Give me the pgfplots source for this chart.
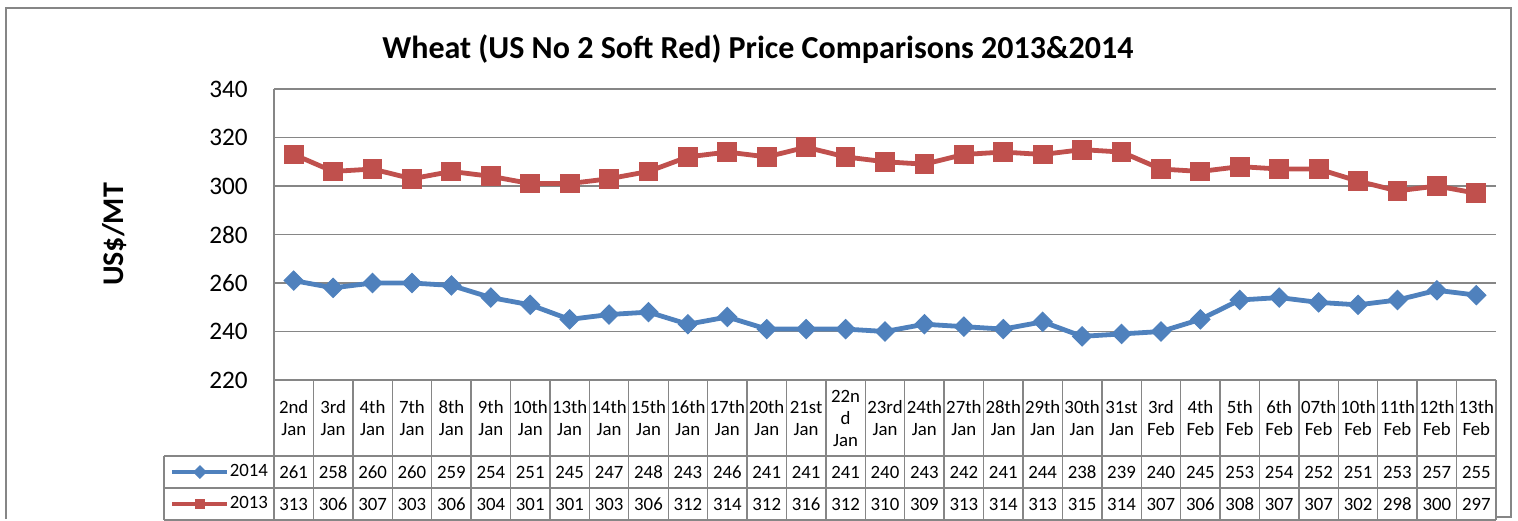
\documentclass[border=0pt]{standalone}
\usepackage{pgfplots}
\pgfplotsset{compat=1.18}
\usepackage{pgfplotstable}
\usepackage{fontspec}
\setmainfont{Carlito}
\definecolor{s14}{HTML}{4F81BD}
\definecolor{s13}{HTML}{C0504D}
\definecolor{gridgray}{HTML}{868686}

% daily prices, US$/MT
\pgfplotstableread{
idx y2014 y2013
0 261 313
1 258 306
2 260 307
3 260 303
4 259 306
5 254 304
6 251 301
7 245 301
8 247 303
9 248 306
10 243 312
11 246 314
12 241 312
13 241 316
14 241 312
15 240 310
16 243 309
17 242 313
18 241 314
19 244 313
20 238 315
21 239 314
22 240 307
23 245 306
24 253 308
25 254 307
26 252 307
27 251 302
28 253 298
29 257 300
30 255 297
}\prices

\newcommand\tabfont{\fontsize{9.4}{11}\selectfont}

\begin{document}
\begin{tikzpicture}
\begin{scope}[x=0.5pt,y=-0.5pt]
\path[use as bounding box] (0,0) rectangle (1518,519);
\end{scope}
\begin{axis}[
  at={(137pt,-190pt)}, anchor=south west,
  scale only axis, width=611pt, height=145.5pt,
  xmin=-0.5, xmax=30.5, ymin=220, ymax=340,
  ytick={220,240,...,340},
  xtick={0,...,30},
  xticklabels={{2nd\\Jan},{3rd\\Jan},{4th\\Jan},{7th\\Jan},{8th\\Jan},{9th\\Jan},{10th\\Jan},{13th\\Jan},{14th\\Jan},{15th\\Jan},{16th\\Jan},{17th\\Jan},{20th\\Jan},{21st\\Jan},{22n\\d\\Jan},{23rd\\Jan},{24th\\Jan},{27th\\Jan},{28th\\Jan},{29th\\Jan},{30th\\Jan},{31st\\Jan},{3rd\\Feb},{4th\\Feb},{5th\\Feb},{6th\\Feb},{07th\\Feb},{10th\\Feb},{11th\\Feb},{12th\\Feb},{13th\\Feb}},
  xticklabel style={font=\tabfont, align=center, anchor=center, yshift=-19pt, inner sep=0pt},
  yticklabel style={font=\fontsize{12.6}{15}\selectfont, inner sep=0pt, xshift=-13pt},
  /pgf/number format/assume math mode=true,
  major tick length=0pt,
  ymajorgrids, grid style={gridgray, line width=0.75pt},
  axis line style={draw=none},
  clip=false,
  title={Wheat (US No 2 Soft Red) Price Comparisons 2013\&2014},
  title style={at={(0.396,1.0962)}, anchor=center, font=\bfseries\fontsize{16}{19}\selectfont},
  ylabel={US\$/MT},
  ylabel style={at={(axis description cs:-0.1301,0.5)}, anchor=center, font=\bfseries\fontsize{15}{18}\selectfont},
  legend style={draw=none, fill=none, at={(-0.0851,-0.2612)}, anchor=north west,
    inner sep=0pt, outer sep=0pt, row sep=0pt, font=\tabfont,
    nodes={inner sep=0pt, minimum height=16pt},
    /tikz/every even column/.append style={column sep=2.5pt}},
  legend cell align=left,
  legend image code/.code={\draw[mark repeat=2,mark phase=2,#1,mark size=2.2pt] plot coordinates {(0pt,0pt) (13.75pt,0pt) (27.5pt,0pt)};},
]
\addplot[s14, line width=2.4pt, mark=square*, mark size=3.4pt, mark options={rotate=45, line width=0.5pt}] table[x=idx, y=y2014] {\prices};
\addplot[s13, line width=2.4pt, mark=square*, mark size=4.7pt, mark options={line width=0.5pt}] table[x=idx, y=y2013] {\prices};
\legend{2014,2013}

% values in the data table under the plot
\addplot[forget plot, draw=none, mark=none, nodes near coords, point meta=explicit,
  every node near coord/.append style={anchor=center, font=\tabfont, text=black, inner sep=0pt}]
  table[x=idx, y expr=182.06, meta=y2014] {\prices};
\addplot[forget plot, draw=none, mark=none, nodes near coords, point meta=explicit,
  every node near coord/.append style={anchor=center, font=\tabfont, text=black, inner sep=0pt}]
  table[x=idx, y expr=168.87, meta=y2013] {\prices};
\end{axis}

\begin{scope}[x=0.5pt,y=-0.5pt, gridgray, line width=0.7pt]
\draw (274,89) -- (274,520);
\foreach \k in {1,...,31} \draw ({274+\k*39.4194},380) -- ({274+\k*39.4194},520);
\draw (164,456) -- (164,520);
\draw (164,456) -- (1496,456);
\draw (164,488) -- (1496,488);
\draw (164,520) -- (1496,520);
\draw (6,519) -- (6,8) -- (1511,8) -- (1511,517) -- (1496,517);
\end{scope}
\end{tikzpicture}
\end{document}
